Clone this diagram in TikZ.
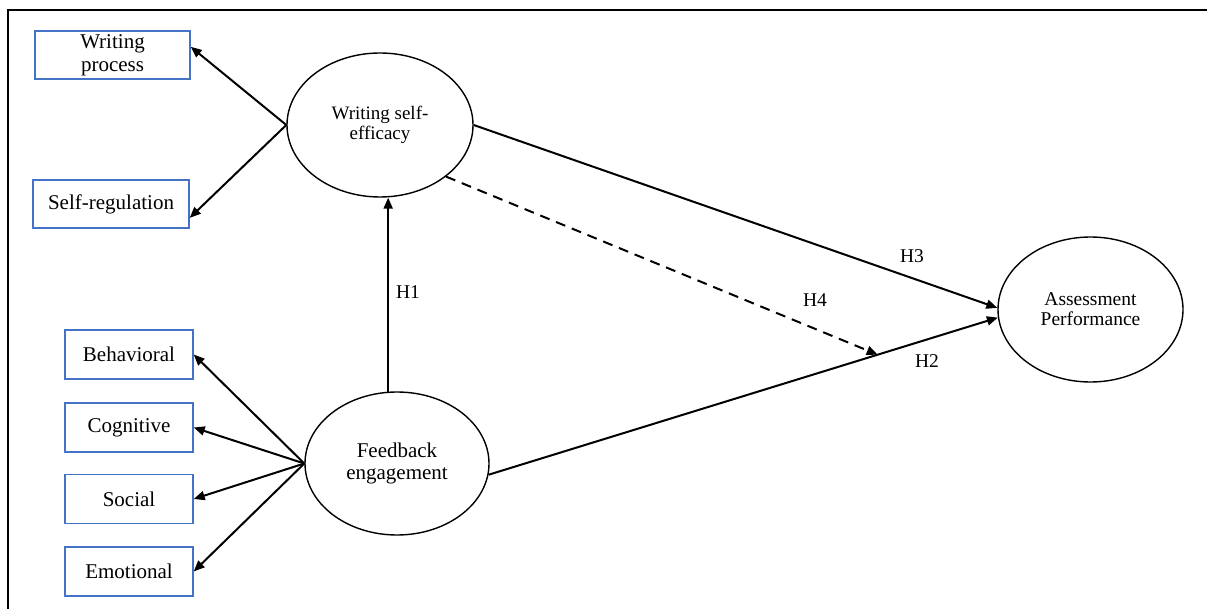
\documentclass[tikz,border=0pt]{standalone}
\usepackage{fontspec}
\setmainfont{Liberation Serif}
\usetikzlibrary{shapes.geometric,arrows.meta}
\definecolor{boxblue}{RGB}{68,114,196}

\tikzset{
	indicator/.style={draw=boxblue, line width=1.4pt, minimum height=48pt, inner sep=0pt, align=center, font=\fontsize{21}{23}\selectfont},
	construct/.style={ellipse, draw, line width=1.4pt, inner sep=0pt, align=center},
	link/.style={-{Triangle[length=11pt,width=9pt]}, line width=2pt},
	hlabel/.style={font=\fontsize{19.5}{22}\selectfont, inner sep=0pt}
}

\begin{document}
\begin{tikzpicture}[x=1pt,y=-1pt]
	\useasboundingbox (0,0) rectangle (1207,609);
	% Frame (top and left only)
	\draw[line width=2.2pt] (8,609) -- (8,10) -- (1207,10);

	% Latent constructs
	\node[construct, minimum width=186pt, minimum height=144pt, font=\fontsize{19}{20}\selectfont] (wse) at (380,125) {Writing self-\\efficacy};
	\node[construct, minimum width=184pt, minimum height=143pt, font=\fontsize{21}{22}\selectfont] (fe) at (397,463.5) {Feedback\\engagement};
	\node[construct, minimum width=185pt, minimum height=145pt, font=\fontsize{19.5}{20}\selectfont] (ap) at (1090.5,309.5) {Assessment\\Performance};

	% Indicators of writing self-efficacy
	\node[indicator, minimum width=155pt] (wp) at (112.5,55) {Writing\\process};
	\node[indicator, minimum width=156pt] (sr) at (111,204) {Self-regulation};

	% Indicators of feedback engagement
	\node[indicator, minimum width=128pt, minimum height=49pt] (beh) at (129,354.5) {Behavioral};
	\node[indicator, minimum width=128pt, minimum height=49pt] (cog) at (129,427.5) {Cognitive};
	\node[indicator, minimum width=128pt, minimum height=49pt] (soc) at (129,499) {Social};
	\node[indicator, minimum width=128pt, minimum height=49pt] (emo) at (129,571.5) {Emotional};

	% Measurement arrows
	\draw[link] (wse.west) -- (wp.6);
	\draw[link] (wse.west) -- (sr.-10);
	\draw[link] (fe.west) -- (beh.east);
	\draw[link] (fe.west) -- (cog.east);
	\draw[link] (fe.west) -- (soc.east);
	\draw[link] (fe.west) -- (emo.east);

	% Hypothesised paths
	\draw[link] (fe.97) -- (fe.97 |- wse.south);
	\draw[link] (wse.east) -- (ap.179);
	\draw[link] (fe.-7) -- coordinate[pos=0.764] (med) (ap.185);
	% Mediation (H4)
	\draw[link, dash pattern=on 10pt off 7pt] (wse.-38) -- (med);

	% Path labels
	\node[hlabel] (h1) at (408,292) {H1};
	\node[hlabel] (h2) at (927,361) {H2};
	\node[hlabel] (h3) at (912,256) {H3};
	\node[hlabel] (h4) at (815,300) {H4};
\end{tikzpicture}
\end{document}
